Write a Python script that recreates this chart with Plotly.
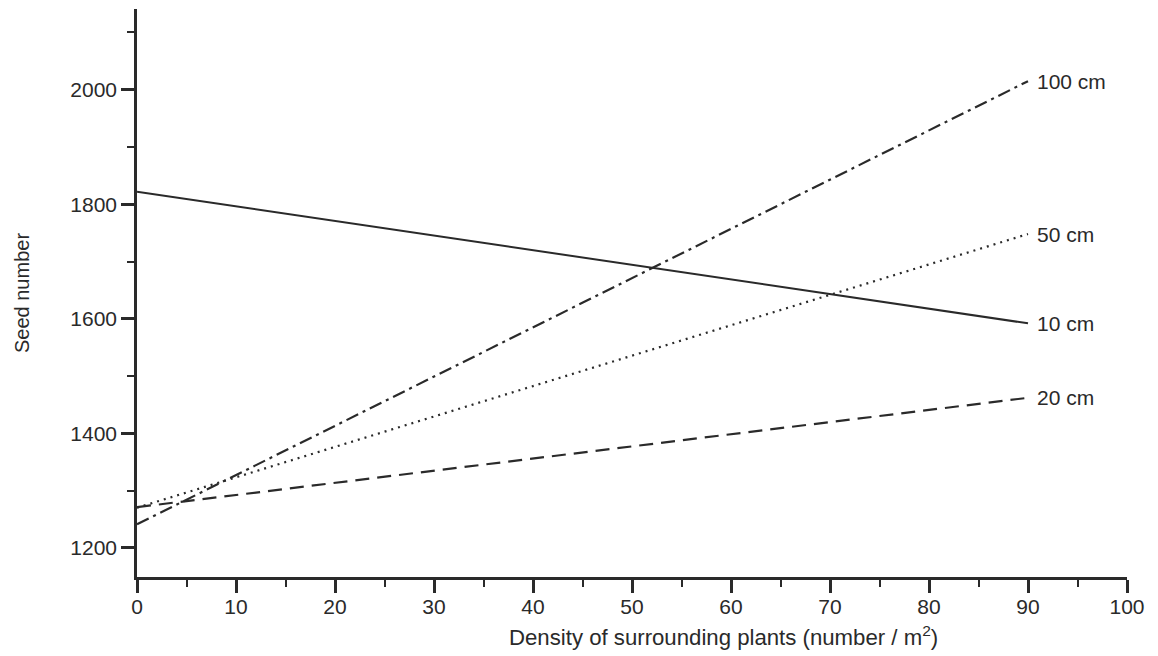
import plotly.graph_objects as go

density = [0, 90]
seed_10cm = [1822, 1592]
seed_20cm = [1271, 1462]
seed_50cm = [1270, 1748]
seed_100cm = [1241, 2015]
labels = ["10 cm", "20 cm", "50 cm", "100 cm"]
x_title = "Density of surrounding plants (number / m<sup>2</sup>)"
y_title = "Seed number"

col = "#2a2a2a"
fig = go.Figure()
series = [
    (seed_10cm, "solid", 2.0),
    (seed_20cm, "14px,8px", 2.2),
    (seed_50cm, "2px,5px", 2.2),
    (seed_100cm, "13px,5px,3px,5px", 2.2),
]
for (ys, dash, w), lab in zip(series, labels):
    fig.add_trace(go.Scatter(x=density, y=ys, mode="lines", name=lab,
                             line=dict(color=col, width=w, dash=dash)))
    fig.add_annotation(x=density[-1], y=ys[-1], text=lab, showarrow=False,
                       xanchor="left", yanchor="middle", xshift=7,
                       font=dict(size=21, color=col))

fig.add_annotation(xref="paper", yref="paper", x=0.592, y=-0.104, text=x_title,
                   showarrow=False, xanchor="center", yanchor="middle",
                   font=dict(size=22.2, color=col))

font = dict(family="Liberation Sans, Arial, sans-serif", size=21, color=col)
fig.update_layout(
    width=1158, height=656,
    margin=dict(l=137, r=31, t=9, b=79),
    paper_bgcolor="white", plot_bgcolor="white",
    showlegend=False, font=font,
    xaxis=dict(range=[0, 100], tickmode="array", tickvals=list(range(0, 101, 10)),
               showgrid=False, zeroline=False, showline=True, linecolor=col, linewidth=2.5,
               ticks="outside", ticklen=13, tickwidth=2.5, tickcolor=col,
               tickfont=dict(size=21), ticklabelstandoff=-4,
               minor=dict(tickvals=list(range(5, 100, 10)), ticks="outside", ticklen=7,
                          tickwidth=2, tickcolor=col)),
    yaxis=dict(range=[1149, 2141], tickmode="array", tickvals=[1200, 1400, 1600, 1800, 2000],
               showgrid=False, zeroline=False, showline=True, linecolor=col, linewidth=2.5,
               ticks="outside", ticklen=13, tickwidth=2.5, tickcolor=col,
               tickfont=dict(size=21),
               minor=dict(tickvals=[1300, 1500, 1700, 1900, 2100], ticks="outside", ticklen=7,
                          tickwidth=2, tickcolor=col),
               title=dict(text=y_title, font=dict(size=20), standoff=36)),
)
fig.write_html("out.html")
